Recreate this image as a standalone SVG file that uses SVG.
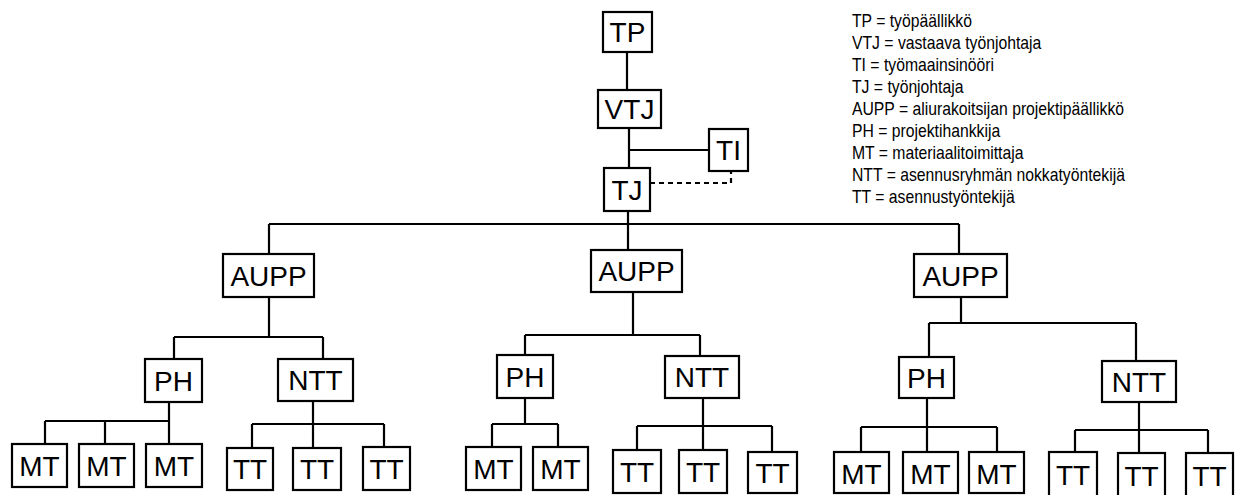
<svg xmlns="http://www.w3.org/2000/svg" width="1246" height="495" viewBox="0 0 1246 495">
<style>
.box{fill:#fff;stroke:#000;stroke-width:2.2}
.lbl{font-family:"Liberation Sans",Arial,sans-serif;font-size:28px;fill:#000;text-anchor:middle}
.leg{font-family:"Liberation Sans",Arial,sans-serif;font-size:17.5px;fill:#000}
.ln{fill:none;stroke:#000;stroke-width:2.2}
.dash{fill:none;stroke:#000;stroke-width:2.2;stroke-dasharray:5 4}
</style>
<rect width="1246" height="495" fill="#fff"/>
<g id="connectors">
<path class="ln" d="M627 52V90"/>
<path class="ln" d="M629 128V168M629 150H709"/>
<path class="dash" d="M650 183H731V171"/>
<path class="ln" d="M628 211V224M269 224H959M269 224V254M628 224V250M959 224V254"/>
<path class="ln" d="M269 297V337M174 337H323M174 337V359M323 337V359"/>
<path class="ln" d="M169 402V421M45 421H169M45 421V444M105 421V444M169 421V444"/>
<path class="ln" d="M313 401V424M252 424H384M252 424V448M313 424V448M384 424V447"/>
<path class="ln" d="M633 292V335M525 335H700M525 335V355M700 335V356"/>
<path class="ln" d="M525 398V424M492 424H558M492 424V447M558 424V447"/>
<path class="ln" d="M703 398V426M637 426H772M637 426V450M703 426V450M772 426V452"/>
<path class="ln" d="M961 297V323M929 323H1136M929 323V357M1136 323V361"/>
<path class="ln" d="M927 398V427M861 427H997M861 427V452M927 427V452M997 427V452"/>
<path class="ln" d="M1139 402V430M1075 430H1208M1075 430V452M1139 430V453M1208 430V453"/>
</g>
<g id="n-tp"><rect class="box" x="603" y="12" width="49" height="40"/><text class="lbl" x="627.5" y="42">TP</text></g>
<g id="n-vtj"><rect class="box" x="598" y="90" width="63" height="38"/><text class="lbl" x="629.5" y="119">VTJ</text></g>
<g id="n-ti"><rect class="box" x="709" y="129" width="39" height="42"/><text class="lbl" x="728.5" y="160">TI</text></g>
<g id="n-tj"><rect class="box" x="604" y="168" width="46" height="43"/><text class="lbl" x="627" y="200">TJ</text></g>
<g id="n-aupp1"><rect class="box" x="223" y="254" width="91" height="43"/><text class="lbl" x="268.5" y="286">AUPP</text></g>
<g id="n-aupp2"><rect class="box" x="591" y="250" width="91" height="42"/><text class="lbl" x="636.5" y="281">AUPP</text></g>
<g id="n-aupp3"><rect class="box" x="914" y="254" width="93" height="43"/><text class="lbl" x="960.5" y="286">AUPP</text></g>
<g id="n-ph1"><rect class="box" x="145" y="359" width="57" height="43"/><text class="lbl" x="173.5" y="391">PH</text></g>
<g id="n-ntt1"><rect class="box" x="278" y="359" width="75" height="42"/><text class="lbl" x="315.5" y="390">NTT</text></g>
<g id="n-ph2"><rect class="box" x="497" y="355" width="56" height="43"/><text class="lbl" x="525" y="387">PH</text></g>
<g id="n-ntt2"><rect class="box" x="665" y="356" width="74" height="42"/><text class="lbl" x="702" y="387">NTT</text></g>
<g id="n-ph3"><rect class="box" x="899" y="357" width="55" height="41"/><text class="lbl" x="926.5" y="388">PH</text></g>
<g id="n-ntt3"><rect class="box" x="1102" y="361" width="74" height="41"/><text class="lbl" x="1139" y="392">NTT</text></g>
<g id="n-mt1a"><rect class="box" x="12" y="444" width="55" height="43"/><text class="lbl" x="39.5" y="476">MT</text></g>
<g id="n-mt1b"><rect class="box" x="79" y="444" width="55" height="43"/><text class="lbl" x="106.5" y="476">MT</text></g>
<g id="n-mt1c"><rect class="box" x="146" y="444" width="56" height="43"/><text class="lbl" x="174" y="476">MT</text></g>
<g id="n-tt1a"><rect class="box" x="227" y="448" width="46" height="42"/><text class="lbl" x="250" y="479">TT</text></g>
<g id="n-tt1b"><rect class="box" x="293" y="448" width="48" height="42"/><text class="lbl" x="317" y="479">TT</text></g>
<g id="n-tt1c"><rect class="box" x="363" y="447" width="47" height="43"/><text class="lbl" x="386.5" y="479">TT</text></g>
<g id="n-mt2a"><rect class="box" x="466" y="447" width="55" height="43"/><text class="lbl" x="493.5" y="479">MT</text></g>
<g id="n-mt2b"><rect class="box" x="533" y="447" width="55" height="43"/><text class="lbl" x="560.5" y="479">MT</text></g>
<g id="n-tt2a"><rect class="box" x="613" y="450" width="48" height="43"/><text class="lbl" x="637" y="482">TT</text></g>
<g id="n-tt2b"><rect class="box" x="679" y="450" width="48" height="43"/><text class="lbl" x="703" y="482">TT</text></g>
<g id="n-tt2c"><rect class="box" x="748" y="452" width="49" height="41"/><text class="lbl" x="772.5" y="483">TT</text></g>
<g id="n-mt3a"><rect class="box" x="834" y="452" width="55" height="41"/><text class="lbl" x="861.5" y="484">MT</text></g>
<g id="n-mt3b"><rect class="box" x="903" y="452" width="55" height="41"/><text class="lbl" x="930.5" y="484">MT</text></g>
<g id="n-mt3c"><rect class="box" x="969" y="452" width="55" height="41"/><text class="lbl" x="996.5" y="484">MT</text></g>
<g id="n-tt3a"><rect class="box" x="1049" y="452" width="48" height="45"/><text class="lbl" x="1073" y="485">TT</text></g>
<g id="n-tt3b"><rect class="box" x="1118" y="453" width="47" height="44"/><text class="lbl" x="1141.5" y="486">TT</text></g>
<g id="n-tt3c"><rect class="box" x="1186" y="453" width="47" height="44"/><text class="lbl" x="1209.5" y="486">TT</text></g>
<g id="legend" transform="translate(852,0) scale(0.9,1)">
<text class="leg" x="0" y="27.5">TP = työpäällikkö</text>
<text class="leg" x="0" y="49.5">VTJ = vastaava työnjohtaja</text>
<text class="leg" x="0" y="71.5">TI = työmaainsinööri</text>
<text class="leg" x="0" y="93.5">TJ = työnjohtaja</text>
<text class="leg" x="0" y="115.5">AUPP = aliurakoitsijan projektipäällikkö</text>
<text class="leg" x="0" y="137.5">PH = projektihankkija</text>
<text class="leg" x="0" y="159.5">MT = materiaalitoimittaja</text>
<text class="leg" x="0" y="181.5">NTT = asennusryhmän nokkatyöntekijä</text>
<text class="leg" x="0" y="203.5">TT = asennustyöntekijä</text>
</g>
</svg>
